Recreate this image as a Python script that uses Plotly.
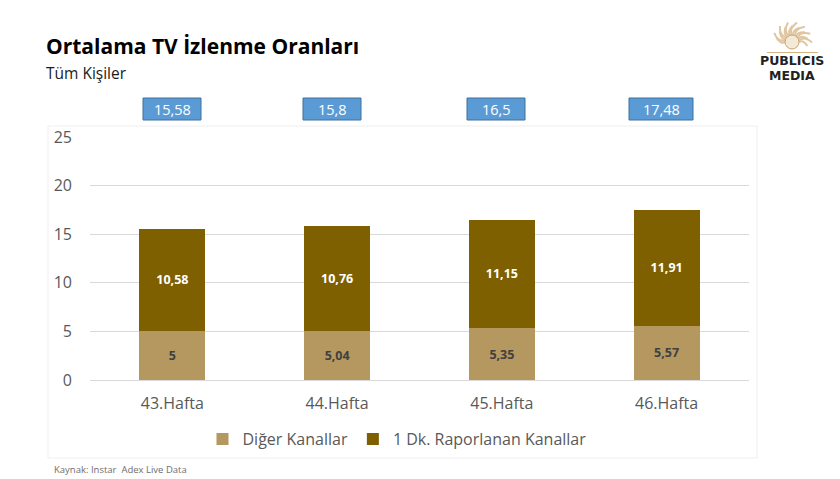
import math
import plotly.graph_objects as go

categories = ["43.Hafta", "44.Hafta", "45.Hafta", "46.Hafta"]
diger = [5, 5.04, 5.35, 5.57]
raporlanan = [10.58, 10.76, 11.15, 11.91]
totals = ["15,58", "15,8", "16,5", "17,48"]
box_left = [143, 303, 467, 629]
box_right = [201, 361, 525, 693]
W, H = 840, 479
L, R, T, B = 90, 749, 137, 380
FONT = "Open Sans"

def lab(v):
    return str(v).replace(".", ",")

def px(x):
    return (x - L) / (R - L)

def py(y):
    return (B - y) / (B - T)

fig = go.Figure()
fig.add_bar(name="Diğer Kanallar", x=categories, y=diger, marker_color="#B5985F", marker_line_width=0,
            text=[lab(v) for v in diger], textposition="inside", insidetextanchor="middle",
            textangle=0, textfont=dict(family=FONT, size=12.5, color="#404040", weight="bold"))
fig.add_bar(name="1 Dk. Raporlanan Kanallar", x=categories, y=raporlanan, marker_color="#7F6000", marker_line_width=0,
            text=[lab(v) for v in raporlanan], textposition="inside", insidetextanchor="middle",
            textangle=0, textfont=dict(family=FONT, size=12.5, color="#FFFFFF", weight="bold"))

shapes = [dict(type="rect", xref="paper", yref="paper", x0=px(48), x1=px(757), y0=py(458), y1=py(126),
               line=dict(color="#EFEFEF", width=1), fillcolor="rgba(0,0,0,0)", layer="below")]
annotations = []
for t, l, r in zip(totals, box_left, box_right):
    shapes.append(dict(type="rect", xref="paper", yref="paper", x0=px(l), x1=px(r), y0=py(120), y1=py(98),
                       fillcolor="#5B9BD5", line=dict(color="#41719C", width=1), layer="below"))
    annotations.append(dict(xref="paper", yref="paper", x=px((l + r) / 2), y=py(109), text=t, showarrow=False,
                            xanchor="center", yanchor="middle",
                            font=dict(family=FONT, size=14.5, color="#FFFFFF")))

def text(x, y, s, size, color, anchor="left", weight="normal", family=FONT):
    annotations.append(dict(xref="paper", yref="paper", x=px(x), y=py(y), text=s, showarrow=False, xanchor=anchor,
                            yanchor="middle", font=dict(family=family, size=size, color=color, weight=weight)))

text(44, 46, "Ortalama TV İzlenme Oranları", 21, "#000000", weight="bold")
text(44, 73, "Tüm Kişiler", 15.5, "#1A1A1A")
text(52, 469, "Kaynak: Instar  Adex Live Data", 9.5, "#6E6E6E")
text(792, 60, "PUBLICIS", 12.5, "#222222", "center", "bold", "DejaVu Sans")
text(792, 75, "MEDIA", 12.5, "#222222", "center", "bold", "DejaVu Sans")

# logo: sun
cx, cy = 792, 42
for i in range(15):
    a = math.pi * (1 + i / 14)
    a2 = a + 0.25
    r = 20 if i % 2 else 16
    shapes.append(dict(type="path", xref="paper", yref="paper", layer="below",
                       path=f"M {px(cx+7*math.cos(a))} {py(cy+7*math.sin(a))} Q {px(cx+r*0.7*math.cos(a-0.25))} {py(cy+r*0.7*math.sin(a-0.25))} {px(cx+r*math.cos(a2))} {py(cy+r*math.sin(a2))}",
                       line=dict(color="#E0C6A0", width=2)))
shapes.append(dict(type="circle", xref="paper", yref="paper", layer="below", x0=px(cx-7), x1=px(cx+7), y0=py(cy+7), y1=py(cy-7),
                   fillcolor="#F4E8D6", line=dict(color="#C9A571", width=1)))
shapes.append(dict(type="rect", xref="paper", yref="paper", layer="below", x0=px(767), x1=px(818), y0=py(53), y1=py(52),
                   fillcolor="#D2B283", line=dict(width=0)))

fig.update_layout(
    width=W, height=H, autosize=False, barmode="stack", bargap=0.6,
    margin=dict(l=L, r=W - R, t=T, b=H - B), paper_bgcolor="white", plot_bgcolor="rgba(0,0,0,0)",
    font=dict(family=FONT, color="#595959"),
    xaxis=dict(tickfont=dict(size=16, color="#595959"), showline=True, linecolor="#D9D9D9", ticks="", showgrid=False,
               ticklabelstandoff=9),
    yaxis=dict(range=[0, 25], tickvals=[0, 5, 10, 15, 20, 25], tickfont=dict(size=16, color="#595959"),
               gridcolor="#D9D9D9", gridwidth=1, zeroline=False, ticks="", ticklabelstandoff=17),
    legend=dict(orientation="h", x=px(397), xanchor="center", y=py(439), yanchor="middle",
                font=dict(size=16, color="#595959"), traceorder="normal", itemwidth=30,
                bgcolor="rgba(0,0,0,0)"),
    shapes=shapes, annotations=annotations, showlegend=True,
)
fig.write_html("out.html", post_script="document.body.style.margin='0';", config={"displayModeBar": False})
